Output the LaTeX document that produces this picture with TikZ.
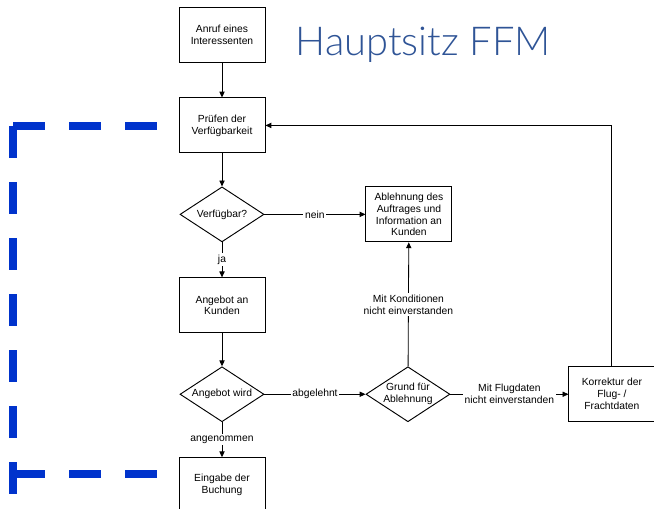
\documentclass[tikz,border=0pt]{standalone}
\usepackage{fontspec}
\setmainfont{Liberation Sans}
\newfontfamily\titlefont{Lato Light}
\usetikzlibrary{shapes.geometric, arrows.meta, positioning}
\definecolor{titleblue}{RGB}{47,84,150}
\definecolor{dashblue}{RGB}{0,51,204}

\begin{document}
\begin{tikzpicture}[
    node distance=1.05cm,
    every node/.style={font=\fontsize{8.8}{10.2}\selectfont},
    stepbox/.style={rectangle, draw, line width=0.8pt, minimum width=2.58cm, minimum height=1.65cm, align=center, inner sep=2pt},
    decision/.style={diamond, draw, line width=0.8pt, minimum width=2.52cm, minimum height=1.65cm, aspect=1.55, inner sep=0pt, align=center},
    edgelabel/.style={fill=white, inner sep=1.5pt, align=center},
    arrow/.style={-{Triangle[length=5pt,width=4.5pt]}, line width=0.7pt},
    frame/.style={dashblue, line width=0.24cm, dash pattern=on 0.96cm off 0.72cm}
]
\useasboundingbox (0,0) rectangle (19.62,-15.27);

% Main flow
\node[stepbox] (anruf) at (6.66,-1.035) {Anruf eines\\Interessenten};
\node[stepbox, below=of anruf] (pruefen) {Prüfen der\\Verfügbarkeit};
\node[decision, below=0.99cm of pruefen] (verfuegbar) {Verfügbar?};
\node[stepbox, below=of verfuegbar] (angebot) {Angebot an\\Kunden};
\node[decision, below=0.99cm of angebot] (angebotwird) {Angebot wird};
\node[stepbox, below=of angebotwird] (eingabe) {Eingabe der\\Buchung};

% Rejection branch
\node[stepbox, right=3.03cm of verfuegbar] (ablehnung) {Ablehnung des\\Auftrages und\\Information an\\Kunden};
\node[decision, right=3.03cm of angebotwird] (grund) {Grund für\\Ablehnung};
\node[stepbox, right=3.54cm of grund] (korrektur) {Korrektur der\\Flug- /\\Frachtdaten};

% Title
\node[font=\titlefont\fontsize{34}{36}\selectfont, text=titleblue, anchor=base west, inner sep=0pt] (titel) at ([xshift=0.9cm, yshift=-0.615cm]anruf.east) {Hauptsitz FFM};

% Dashed frame
\draw[frame] (0.39,-3.78) -- (0.39,-14.82);
\draw[frame] (0.39,-3.78) -- (4.71,-3.78);
\draw[frame] (0.39,-14.22) -- (4.71,-14.22);

% Arrows
\draw[arrow] (anruf) -- (pruefen);
\draw[arrow] (pruefen) -- (verfuegbar);
\draw[arrow] (verfuegbar) -- node[edgelabel] {nein} (ablehnung);
\draw[arrow] (verfuegbar) -- node[edgelabel] {ja} (angebot);
\draw[arrow] (angebot) -- (angebotwird);
\draw[arrow] (angebotwird) -- node[edgelabel] {abgelehnt} (grund);
\draw[arrow] (angebotwird) -- node[edgelabel] {angenommen} (eingabe);
\draw[arrow] (grund) -- node[edgelabel] {Mit Konditionen\\nicht einverstanden} (ablehnung);
\draw[arrow] (grund) -- node[edgelabel] {Mit Flugdaten\\nicht einverstanden} (korrektur);
\draw[arrow] (korrektur) |- (pruefen);

\end{tikzpicture}
\end{document}
